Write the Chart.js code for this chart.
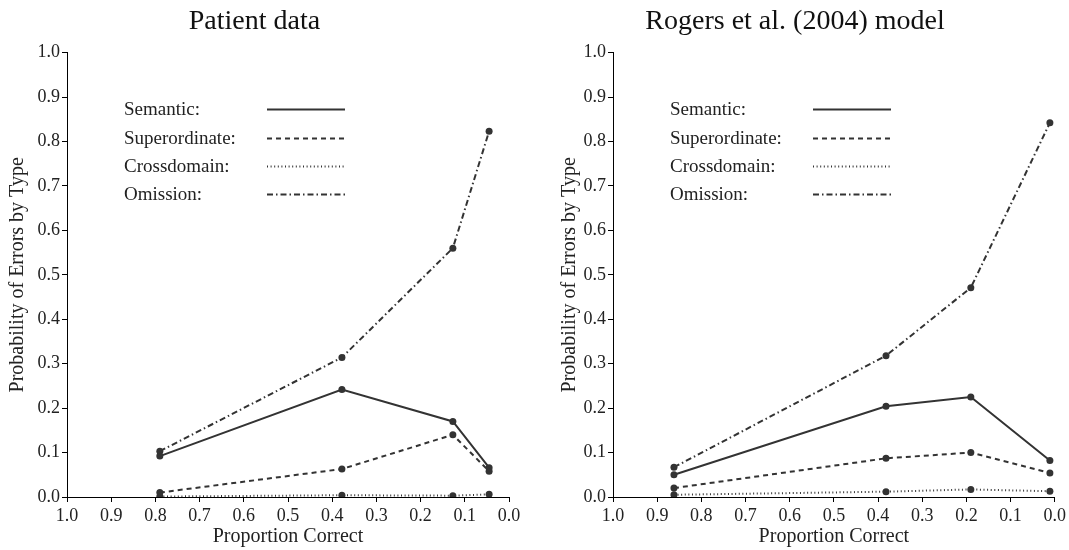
<!DOCTYPE html>
<html>
<head>
<meta charset="utf-8">
<script src="https://cdn.jsdelivr.net/npm/chart.js@4.4.1/dist/chart.umd.min.js"></script>
<style>
  html, body { margin: 0; padding: 0; background: #fff; }
  #wrap { position: relative; width: 1069px; height: 550px; }
  .panel { position: absolute; top: 0; height: 550px; }
  #left { left: 0; width: 535px; }
  #right { left: 535px; width: 534px; }
</style>
</head>
<body>
<div id="wrap">
  <div class="panel" id="left"><canvas id="patientChart"></canvas></div>
  <div class="panel" id="right"><canvas id="modelChart"></canvas></div>
</div>
<script>
// Patient data panel
const patientX = [0.79, 0.378, 0.127, 0.045];
const patientSemantic = [0.092, 0.242, 0.170, 0.066];
const patientSuperordinate = [0.010, 0.063, 0.140, 0.058];
const patientCrossdomain = [0.001, 0.004, 0.003, 0.006];
const patientOmission = [0.103, 0.314, 0.560, 0.823];

// Rogers et al. (2004) model panel
const modelX = [0.862, 0.382, 0.190, 0.011];
const modelSemantic = [0.050, 0.204, 0.225, 0.082];
const modelSuperordinate = [0.020, 0.087, 0.100, 0.054];
const modelCrossdomain = [0.005, 0.012, 0.017, 0.013];
const modelOmission = [0.067, 0.318, 0.471, 0.842];

const seriesNames = ['Semantic:', 'Superordinate:', 'Crossdomain:', 'Omission:'];
const seriesDash = [[], [5, 4], [1, 2.6], [6, 3, 1.5, 3]];

const INK = '#333333';
const TEXT = '#222222';
const FONT = '"Liberation Serif", "DejaVu Serif", serif';

// Legend drawn inside the plot area, text column + line sample
const innerLegendPlugin = {
    id: 'innerLegend',
    afterDatasetsDraw(chart) {
        const { ctx, chartArea } = chart;
        ctx.save();
        ctx.font = '19px ' + FONT;
        ctx.textBaseline = 'middle';
        ctx.textAlign = 'left';
        const rowsY = [57, 86, 114, 142];
        chart.data.datasets.forEach((ds, i) => {
            const y = chartArea.top + rowsY[i];
            ctx.fillStyle = TEXT;
            ctx.fillText(seriesNames[i], chartArea.left + 57, y);
            ctx.beginPath();
            ctx.setLineDash(ds.borderDash);
            ctx.lineWidth = 2;
            ctx.strokeStyle = INK;
            ctx.moveTo(chartArea.left + 200, y);
            ctx.lineTo(chartArea.left + 278, y);
            ctx.stroke();
        });
        ctx.restore();
    }
};

function toPoints(xs, ys) {
    return xs.map((x, i) => ({ x: x, y: ys[i] }));
}

function buildChart(canvasId, titleText, xs, seriesList, side) {
    const datasets = seriesList.map((ys, i) => ({
        label: seriesNames[i],
        data: toPoints(xs, ys),
        borderColor: INK,
        backgroundColor: INK,
        borderWidth: 2,
        borderDash: seriesDash[i],
        pointRadius: 3.5,
        pointBackgroundColor: INK,
        pointBorderWidth: 0,
        tension: 0
    }));

    const axisCommon = {
        type: 'linear',
        min: 0,
        max: 1,
        grid: { drawOnChartArea: false, drawTicks: true, tickLength: 5, color: '#000' },
        border: { display: true, color: '#000', width: 1 },
        ticks: {
            stepSize: 0.1,
            color: TEXT,
            font: { family: FONT, size: 18 },
            callback: v => v.toFixed(1)
        }
    };

    return new Chart(document.getElementById(canvasId), {
        type: 'line',
        data: { datasets },
        plugins: [innerLegendPlugin],
        options: {
            responsive: true,
            maintainAspectRatio: false,
            animation: false,
            layout: { padding: { left: 0, right: side.padRight, top: 0, bottom: 1 } },
            plugins: {
                legend: { display: false },
                tooltip: { enabled: false },
                title: {
                    display: true,
                    text: titleText,
                    color: '#111',
                    font: { family: FONT, size: 28, weight: 'normal' },
                    padding: { top: 5, bottom: 14 }
                }
            },
            scales: {
                x: Object.assign({}, axisCommon, {
                    reverse: true,
                    ticks: Object.assign({}, axisCommon.ticks, { padding: 3, maxRotation: 0 }),
                    title: {
                        display: true,
                        text: 'Proportion Correct',
                        color: TEXT,
                        font: { family: FONT, size: 20 },
                        padding: { top: 0, bottom: 0 }
                    },
                    afterFit: s => { s.height = 52; }
                }),
                y: Object.assign({}, axisCommon, {
                    ticks: Object.assign({}, axisCommon.ticks, { padding: 2 }),
                    title: {
                        display: true,
                        text: 'Probability of Errors by Type',
                        color: TEXT,
                        font: { family: FONT, size: 20 },
                        padding: { top: side.yTitlePad, bottom: 0 }
                    },
                    afterFit: s => { s.width = side.yWidth; }
                })
            }
        }
    });
}

buildChart('patientChart', 'Patient data', patientX,
    [patientSemantic, patientSuperordinate, patientCrossdomain, patientOmission],
    { padRight: 26, yWidth: 67, yTitlePad: 6 });

buildChart('modelChart', 'Rogers et al. (2004) model', modelX,
    [modelSemantic, modelSuperordinate, modelCrossdomain, modelOmission],
    { padRight: 14, yWidth: 78, yTitlePad: 23 });
</script>
</body>
</html>
